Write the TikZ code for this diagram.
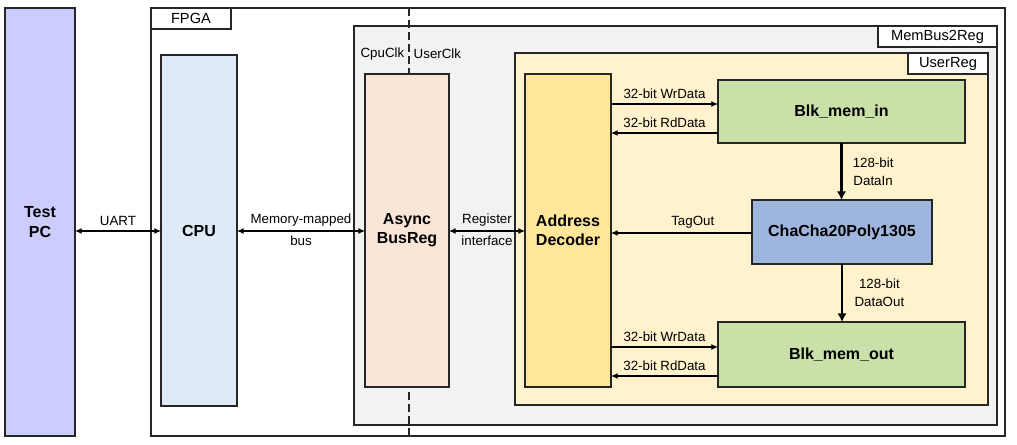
\documentclass[tikz,border=0pt]{standalone}
\usepackage{fontspec}
\setmainfont{Liberation Sans}
\usepackage{xcolor}
\usetikzlibrary{arrows.meta}
\definecolor{pcfill}{HTML}{CCCCFF}
\definecolor{cpufill}{HTML}{DEEBF7}
\definecolor{asyncfill}{HTML}{FBE5D6}
\definecolor{busfill}{HTML}{F2F2F2}
\definecolor{userfill}{HTML}{FFF2CC}
\definecolor{decfill}{HTML}{FFE699}
\definecolor{memfill}{HTML}{C9E0A9}
\definecolor{chachafill}{HTML}{9EB6DE}
\begin{document}
\begin{tikzpicture}[x=0.75pt, y=-0.75pt,
    frame/.style={draw=black!85, line width=0.9pt, rectangle, inner sep=0pt, outer sep=0pt},
    box/.style={frame, align=center, font=\fontsize{12}{14.5}\selectfont\bfseries},
    tab/.style={frame, fill=white, minimum height=15.75pt, font=\fontsize{11}{13}\selectfont},
    lbl/.style={font=\fontsize{10}{13.5}\selectfont, align=center},
    bus/.style={line width=0.9pt, -{Latex[length=5pt,width=4.5pt]}},
    busboth/.style={line width=0.9pt, {Latex[length=5pt,width=4.5pt]}-{Latex[length=5pt,width=4.5pt]}},
    wide/.style={line width=2.2pt, -{Latex[length=6.5pt,width=7pt]}}]
    \useasboundingbox (0,0) rectangle (1017,445);

    % Containers
    \node[frame, fill=white, minimum width=640.5pt, minimum height=321pt] (fpga) at (578,222) {};
    \node[tab, anchor=north west, minimum width=60pt] (fpgatab) at (fpga.north west) {FPGA};
    \node[frame, fill=busfill, minimum width=482.25pt, minimum height=299.25pt] (membus) at (675.5,225.5) {};
    \node[tab, anchor=north east, minimum width=89.25pt] (membustab) at (membus.north east) {MemBus2Reg};
    \node[frame, fill=userfill, minimum width=354.75pt, minimum height=264pt] (userreg) at (751.5,229) {};
    \node[tab, anchor=north east, minimum width=60pt] (userregtab) at (userreg.north east) {UserReg};

    % Clock domains
    \coordinate (clk) at (409,0);
    \draw[black!85, line width=0.9pt, dash pattern=on 6pt off 3pt] (fpga.north -| clk) -- (fpga.south -| clk);
    \node[lbl, left] (cpuclk) at (clk |- 0,54) {CpuClk};
    \node[lbl, right] (userclk) at (clk |- 0,54) {UserClk};

    % Blocks
    \node[box, fill=pcfill, minimum width=52.5pt, minimum height=321pt] (pc) at (40,222) {Test\\PC};
    \node[box, fill=cpufill, minimum width=57pt, minimum height=263.25pt] (cpu) at (199,230.5) {CPU};
    \node[box, fill=asyncfill, minimum width=63pt, minimum height=234.75pt] (async) at (407,230.5) {Async\\BusReg};
    \node[box, fill=decfill, minimum width=64.5pt, minimum height=234.75pt] (decoder) at (568,230.5) {Address\\Decoder};
    \node[box, fill=memfill, minimum width=185.25pt, minimum height=47.25pt] (memin) at (841.5,111.5) {Blk\_mem\_in};
    \node[box, fill=chachafill, minimum width=135pt, minimum height=48pt] (chacha) at (842,232) {ChaCha20Poly1305};
    \node[box, fill=memfill, minimum width=185.25pt, minimum height=48.75pt] (memout) at (841.5,354.5) {Blk\_mem\_out};

    % Bus connections
    \draw[busboth] (pc.east |- 0,231) -- node[lbl, above] {UART} (cpu.west |- 0,231);
    \draw[busboth] (cpu.east |- 0,231) -- node[lbl, above] {Memory-mapped} node[lbl, below] {bus} (async.west |- 0,231);
    \draw[busboth] (async.east |- 0,231) -- node[lbl, above] {Register} node[lbl, below] {interface} (decoder.west |- 0,231);

    % Memory interfaces
    \draw[bus] (decoder.east |- 0,104) -- node[lbl, above] {32-bit WrData} (memin.west |- 0,104);
    \draw[bus] (memin.west |- 0,133) -- node[lbl, above] {32-bit RdData} (decoder.east |- 0,133);
    \draw[bus] (decoder.east |- 0,347) -- node[lbl, above] {32-bit WrData} (memout.west |- 0,347);
    \draw[bus] (memout.west |- 0,376) -- node[lbl, above] {32-bit RdData} (decoder.east |- 0,376);
    \draw[bus] (chacha.west |- 0,233) -- node[lbl, above, pos=0.42] {TagOut} (decoder.east |- 0,233);

    % Data path
    \draw[wide] (memin.south) -- node[lbl, right, xshift=4pt] {128-bit\\DataIn} (memin.south |- chacha.north);
    \draw[wide] (chacha.south) -- node[lbl, right, xshift=5pt] {128-bit\\DataOut} (chacha.south |- memout.north);
\end{tikzpicture}
\end{document}
